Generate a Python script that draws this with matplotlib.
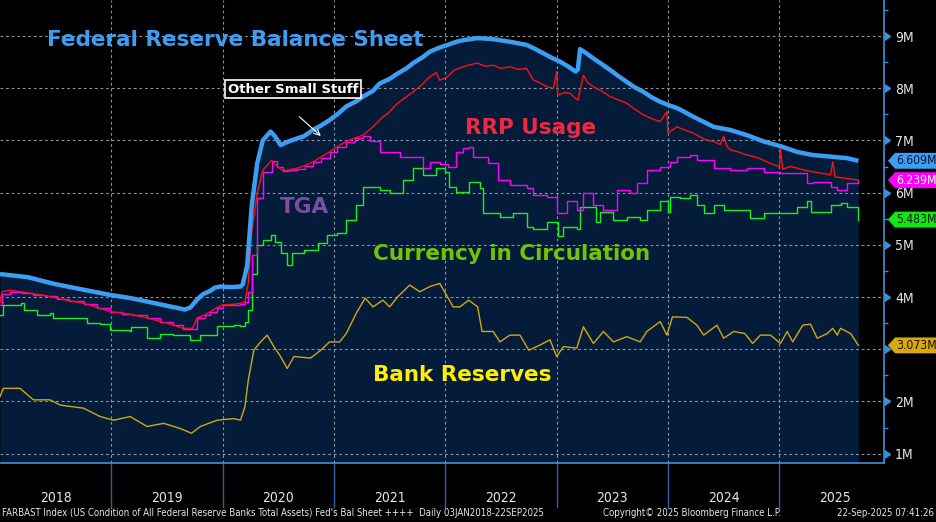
import matplotlib
matplotlib.use("Agg")
import matplotlib.pyplot as plt
from matplotlib import font_manager
from matplotlib.font_manager import FontProperties
from matplotlib.path import Path
import matplotlib.transforms as mtransforms

# look for a narrow face (Bloomberg uses a condensed font)
narrow = None
for f in font_manager.fontManager.ttflist:
    name = f.name.lower()
    if ('narrow' in name or 'condensed' in name or f.stretch in ('condensed', 'semi-condensed')) \
            and f.weight in (400, 'normal', 'regular') and f.style == 'normal':
        narrow = f
        break
if narrow is not None:
    NARROW = dict(fontproperties=FontProperties(fname=narrow.fname))
    SCALE = 1.0
else:
    NARROW = dict(family='DejaVu Sans')
    SCALE = 0.9

# colours
BG = '#000000'
NAVY = '#041c3a'
BLUE = '#3d9df2'
RED = '#ff1010'
MAGENTA = '#ff00ff'
GREEN = '#19f019'
GOLD = '#d2a80a'
GRID = '#8a929a'
SPINE = '#3b8fe0'

# ---- data (millions of USD, decimal years) ----
blue_t = [2018.00, 2018.25, 2018.49, 2018.75, 2018.99, 2019.17, 2019.35, 2019.55, 2019.66, 2019.71,
          2019.77, 2019.82, 2019.89, 2019.93, 2019.98, 2020.07, 2020.16, 2020.18, 2020.22, 2020.26,
          2020.31, 2020.36, 2020.43, 2020.47, 2020.52, 2020.58, 2020.67, 2020.73, 2020.81, 2020.88,
          2020.96, 2021.03, 2021.11, 2021.20, 2021.26, 2021.35, 2021.41, 2021.50, 2021.57, 2021.65,
          2021.71, 2021.80, 2021.86, 2021.95, 2022.02, 2022.10, 2022.16, 2022.29, 2022.43, 2022.58,
          2022.73, 2022.80, 2022.88, 2022.95, 2023.03, 2023.10, 2023.17, 2023.19, 2023.21, 2023.26,
          2023.33, 2023.40, 2023.48, 2023.55, 2023.63, 2023.70, 2023.78, 2023.85, 2023.93, 2024.00,
          2024.08, 2024.11, 2024.23, 2024.26, 2024.41, 2024.56, 2024.71, 2024.86, 2025.01, 2025.16,
          2025.30, 2025.46, 2025.61, 2025.71]
blue_v = [4.44, 4.38, 4.25, 4.14, 4.04, 3.98, 3.90, 3.81, 3.76, 3.80,
          3.95, 4.05, 4.12, 4.18, 4.20, 4.19, 4.20, 4.24, 4.60, 5.73,
          6.56, 7.00, 7.17, 7.08, 6.91, 6.97, 7.04, 7.08, 7.20, 7.28,
          7.39, 7.50, 7.65, 7.75, 7.84, 7.95, 8.09, 8.18, 8.28, 8.38,
          8.48, 8.60, 8.70, 8.78, 8.83, 8.89, 8.92, 8.96, 8.94, 8.89,
          8.83, 8.76, 8.67, 8.59, 8.51, 8.42, 8.32, 8.36, 8.75, 8.68,
          8.57, 8.47, 8.35, 8.24, 8.12, 8.02, 7.93, 7.83, 7.74, 7.68,
          7.62, 7.59, 7.45, 7.42, 7.26, 7.20, 7.10, 6.98, 6.89, 6.78,
          6.72, 6.69, 6.66, 6.609]

red_t = [2018.00, 2018.02, 2018.09, 2018.20, 2018.30, 2018.40, 2018.51, 2018.62, 2018.75, 2018.87,
         2018.99, 2019.10, 2019.19, 2019.32, 2019.44, 2019.55, 2019.64, 2019.73, 2019.77, 2019.84,
         2019.89, 2019.95, 2020.00, 2020.10, 2020.16, 2020.20, 2020.23, 2020.26, 2020.31, 2020.36,
         2020.44, 2020.49, 2020.54, 2020.60, 2020.67, 2020.74, 2020.81, 2020.88, 2020.96, 2021.03,
         2021.11, 2021.19, 2021.26, 2021.35, 2021.44, 2021.50, 2021.57, 2021.64, 2021.71, 2021.78,
         2021.86, 2021.92, 2021.95, 2022.02, 2022.08, 2022.16, 2022.22, 2022.29, 2022.36, 2022.43,
         2022.50, 2022.58, 2022.66, 2022.73, 2022.79, 2022.85, 2022.91, 2022.97, 2023.00, 2023.01,
         2023.08, 2023.12, 2023.19, 2023.24, 2023.28, 2023.33, 2023.40, 2023.48, 2023.55, 2023.63,
         2023.70, 2023.78, 2023.85, 2023.93, 2023.99, 2024.00, 2024.08, 2024.15, 2024.23, 2024.26,
         2024.33, 2024.41, 2024.47, 2024.50, 2024.53, 2024.56, 2024.63, 2024.71, 2024.79, 2024.86,
         2024.93, 2025.00, 2025.01, 2025.03, 2025.10, 2025.16, 2025.23, 2025.30, 2025.38, 2025.46,
         2025.48, 2025.50, 2025.61, 2025.71]
red_v = [3.89, 4.10, 4.13, 4.10, 4.06, 4.03, 3.98, 3.93, 3.88, 3.80,
         3.72, 3.69, 3.66, 3.60, 3.53, 3.47, 3.40, 3.40, 3.60, 3.66,
         3.72, 3.80, 3.85, 3.86, 3.88, 3.91, 4.27, 5.23, 5.99, 6.43,
         6.62, 6.50, 6.42, 6.44, 6.47, 6.52, 6.59, 6.68, 6.78, 6.88,
         6.98, 7.05, 7.10, 7.26, 7.45, 7.55, 7.71, 7.82, 7.93, 8.05,
         8.22, 8.30, 8.15, 8.22, 8.35, 8.41, 8.45, 8.48, 8.42, 8.44,
         8.38, 8.41, 8.36, 8.38, 8.16, 8.10, 8.03, 8.00, 8.32, 7.87,
         7.92, 7.90, 7.77, 8.25, 8.10, 8.03, 7.95, 7.84, 7.78, 7.71,
         7.60, 7.49, 7.42, 7.36, 7.55, 7.14, 7.26, 7.20, 7.14, 7.10,
         7.02, 6.98, 6.92, 7.08, 6.88, 6.82, 6.78, 6.72, 6.68, 6.62,
         6.55, 6.50, 6.85, 6.45, 6.50, 6.47, 6.43, 6.40, 6.37, 6.34,
         6.59, 6.30, 6.27, 6.239]

magenta_t = [2018.00, 2018.02, 2018.09, 2018.20, 2018.30, 2018.40, 2018.51, 2018.62, 2018.75, 2018.87,
             2018.99, 2019.10, 2019.19, 2019.32, 2019.44, 2019.55, 2019.64, 2019.73, 2019.77, 2019.84,
             2019.89, 2019.95, 2020.00, 2020.10, 2020.16, 2020.20, 2020.23, 2020.26, 2020.31, 2020.36,
             2020.44, 2020.49, 2020.54, 2020.60, 2020.67, 2020.74, 2020.81, 2020.88, 2020.96, 2021.03,
             2021.11, 2021.19, 2021.26, 2021.32, 2021.41, 2021.53, 2021.59, 2021.71, 2021.80, 2021.86,
             2021.95, 2022.02, 2022.10, 2022.16, 2022.21, 2022.25, 2022.38, 2022.47, 2022.58, 2022.73,
             2022.79, 2022.91, 2023.00, 2023.09, 2023.18, 2023.24, 2023.33, 2023.42, 2023.54, 2023.66,
             2023.72, 2023.81, 2023.93, 2024.02, 2024.08, 2024.20, 2024.26, 2024.41, 2024.56, 2024.71,
             2024.86, 2025.01, 2025.16, 2025.25, 2025.30, 2025.46, 2025.52, 2025.61, 2025.71]
magenta_v = [3.84, 4.06, 4.09, 4.07, 4.04, 4.02, 3.97, 3.92, 3.87, 3.79,
             3.71, 3.68, 3.65, 3.59, 3.52, 3.46, 3.39, 3.39, 3.59, 3.65,
             3.71, 3.79, 3.84, 3.85, 3.87, 3.90, 4.10, 4.80, 5.90, 6.40,
             6.61, 6.49, 6.41, 6.43, 6.46, 6.51, 6.58, 6.67, 6.77, 6.87,
             6.97, 7.04, 7.09, 6.98, 6.78, 6.78, 6.69, 6.69, 6.47, 6.59,
             6.55, 6.50, 6.78, 6.85, 6.88, 6.69, 6.56, 6.24, 6.15, 6.08,
             5.95, 5.92, 5.60, 5.83, 5.67, 5.99, 5.76, 5.67, 6.05, 5.99,
             6.18, 6.43, 6.50, 6.59, 6.69, 6.72, 6.62, 6.47, 6.43, 6.47,
             6.40, 6.37, 6.37, 6.18, 6.21, 6.11, 6.05, 6.18, 6.239]

green_t = [2018.00, 2018.03, 2018.19, 2018.22, 2018.30, 2018.33, 2018.45, 2018.48, 2018.72, 2018.78,
           2018.90, 2018.99, 2019.17, 2019.18, 2019.32, 2019.44, 2019.55, 2019.71, 2019.80, 2019.95,
           2020.10, 2020.16, 2020.20, 2020.23, 2020.26, 2020.31, 2020.36, 2020.43, 2020.47, 2020.52,
           2020.58, 2020.62, 2020.73, 2020.86, 2020.94, 2021.03, 2021.11, 2021.20, 2021.26, 2021.41,
           2021.50, 2021.62, 2021.71, 2021.80, 2021.92, 2022.00, 2022.03, 2022.10, 2022.21, 2022.31,
           2022.34, 2022.49, 2022.61, 2022.73, 2022.79, 2022.91, 2023.01, 2023.06, 2023.18, 2023.21,
           2023.30, 2023.35, 2023.39, 2023.51, 2023.63, 2023.75, 2023.81, 2023.93, 2024.00, 2024.02,
           2024.11, 2024.20, 2024.26, 2024.32, 2024.41, 2024.50, 2024.62, 2024.74, 2024.86, 2025.10,
           2025.16, 2025.25, 2025.28, 2025.46, 2025.55, 2025.61, 2025.71]
green_v = [3.66, 3.85, 3.88, 3.76, 3.76, 3.66, 3.69, 3.59, 3.59, 3.50,
           3.48, 3.37, 3.34, 3.43, 3.21, 3.30, 3.27, 3.18, 3.27, 3.44,
           3.46, 3.44, 3.53, 3.75, 4.45, 5.00, 5.09, 5.19, 5.06, 4.84,
           4.61, 4.84, 4.90, 5.03, 5.19, 5.22, 5.48, 5.76, 6.11, 6.05,
           5.99, 6.24, 6.47, 6.34, 6.47, 6.40, 6.11, 6.02, 6.21, 6.08,
           5.60, 5.54, 5.60, 5.35, 5.31, 5.44, 5.16, 5.35, 5.31, 5.73,
           5.73, 5.44, 5.63, 5.48, 5.54, 5.48, 5.67, 5.83, 5.63, 5.92,
           5.89, 5.95, 5.76, 5.60, 5.76, 5.67, 5.67, 5.51, 5.60, 5.60,
           5.73, 5.83, 5.63, 5.76, 5.80, 5.73, 5.483]

gold_t = [2018.00, 2018.03, 2018.18, 2018.30, 2018.45, 2018.54, 2018.75, 2018.90, 2019.02, 2019.17,
          2019.32, 2019.47, 2019.62, 2019.72, 2019.80, 2019.95, 2020.10, 2020.16, 2020.20, 2020.23,
          2020.28, 2020.34, 2020.40, 2020.46, 2020.52, 2020.58, 2020.64, 2020.79, 2020.88, 2020.96,
          2021.05, 2021.11, 2021.20, 2021.28, 2021.35, 2021.44, 2021.50, 2021.57, 2021.68, 2021.77,
          2021.86, 2021.95, 2022.02, 2022.07, 2022.13, 2022.21, 2022.29, 2022.33, 2022.43, 2022.49,
          2022.58, 2022.67, 2022.75, 2022.85, 2022.94, 2023.00, 2023.06, 2023.18, 2023.24, 2023.33,
          2023.42, 2023.51, 2023.63, 2023.75, 2023.81, 2023.93, 2023.99, 2024.04, 2024.17, 2024.26,
          2024.32, 2024.44, 2024.50, 2024.59, 2024.69, 2024.76, 2024.83, 2024.92, 2025.01, 2025.07,
          2025.12, 2025.21, 2025.28, 2025.34, 2025.43, 2025.48, 2025.52, 2025.55, 2025.64, 2025.71]
gold_v = [2.09, 2.25, 2.25, 2.03, 2.03, 1.93, 1.87, 1.71, 1.64, 1.71,
          1.52, 1.58, 1.48, 1.39, 1.52, 1.64, 1.67, 1.64, 1.90, 2.41,
          2.98, 3.14, 3.27, 3.05, 2.86, 2.63, 2.86, 2.83, 2.98, 3.14,
          3.14, 3.30, 3.69, 3.98, 3.81, 3.94, 3.81, 4.00, 4.23, 4.10,
          4.20, 4.26, 4.00, 3.81, 3.81, 3.94, 3.81, 3.34, 3.34, 3.14,
          3.27, 3.27, 2.98, 3.08, 3.18, 2.86, 3.05, 3.02, 3.43, 3.11,
          3.34, 3.14, 3.24, 3.14, 3.34, 3.53, 3.27, 3.62, 3.61, 3.46,
          3.27, 3.46, 3.21, 3.34, 3.30, 3.11, 3.27, 3.27, 3.11, 3.34,
          3.14, 3.46, 3.48, 3.21, 3.30, 3.40, 3.27, 3.40, 3.30, 3.073]

years = [2018, 2019, 2020, 2021, 2022, 2023, 2024, 2025]
y_ticks = [1, 2, 3, 4, 5, 6, 7, 8, 9]
y_min, y_max = 0.82, 9.69
x_min, x_max = 2018.0, 2025.94

fig = plt.figure(figsize=(9.36, 5.22), dpi=100, facecolor=BG)
ax = fig.add_axes([0, 59 / 522, 884 / 936, 463 / 522], facecolor=BG)
ax.set_xlim(x_min, x_max)
ax.set_ylim(y_min, y_max)

# navy area under the balance sheet
ax.fill_between(blue_t, blue_v, y_min, color=NAVY, lw=0, zorder=1)

# grid
ax.set_yticks(y_ticks)
ax.set_yticks([v + 0.5 for v in y_ticks], minor=True)
ax.set_xticks(years[1:])
ax.grid(True, which='major', color=GRID, lw=0.8, ls=(0, (2.5, 2.5)), zorder=1.5)

ax.plot(gold_t, gold_v, color=GOLD, lw=1.0, zorder=3)
ax.plot(green_t, green_v, color=GREEN, lw=1.0, drawstyle='steps-post', zorder=3)
ax.plot(magenta_t, magenta_v, color=MAGENTA, lw=1.0, drawstyle='steps-post', zorder=3)
ax.plot(red_t, red_v, color=RED, lw=1.0, zorder=4)
ax.plot(blue_t, blue_v, color=BLUE, lw=3.2, zorder=5, solid_capstyle='butt')

# axes look
for s in ['left', 'top']:
    ax.spines[s].set_visible(False)
for s in ['right', 'bottom']:
    ax.spines[s].set_color(SPINE)
    ax.spines[s].set_linewidth(1.2)
ax.yaxis.tick_right()
# the 3M label sits under the last bank reserves tag, as in the original
ax.set_yticklabels(['' if v == 3 else f'{v}M' for v in y_ticks], color='#e6e6e6',
                   fontsize=10 * SCALE, **NARROW)
ax.tick_params(axis='y', which='major', length=0, pad=8)
ax.tick_params(axis='y', which='minor', length=3, color=SPINE, width=1, direction='out')
ax.tick_params(axis='x', which='both', length=0, labelbottom=False)

# triangle tick marks on the right axis
tri = mtransforms.blended_transform_factory(ax.transAxes, ax.transData)
ax.plot([1.0] * len(y_ticks), y_ticks, ls='none', marker=9, ms=6, color=SPINE,
        transform=tri, clip_on=False, zorder=6)

# year labels and separators below the axis
sep = mtransforms.blended_transform_factory(ax.transData, ax.transAxes)
for y in years:
    ax.text(y + 0.5, -0.075, str(y), transform=sep, ha='center', va='center',
            color='#e6e6e6', fontsize=10 * SCALE, **NARROW)
    if y > years[0]:
        ax.plot([y, y], [0, -0.095], transform=sep, color='#2a64a8', lw=1, clip_on=False)


# value tags on the right
def tag_box(x0, y0, width, height, mutation_size):
    pad = 0.12 * mutation_size
    x0, y0 = x0 - pad, y0 - pad
    w, h = width + 2 * pad, height + 2 * pad
    tip = h * 0.45
    verts = [(x0 - tip, y0 + h / 2), (x0, y0), (x0 + w, y0), (x0 + w, y0 + h),
             (x0, y0 + h), (x0 - tip, y0 + h / 2)]
    return Path(verts, closed=True)


tags = [(blue_v[-1], BLUE, '#0a1530'), (magenta_v[-1], MAGENTA, 'white'),
        (green_v[-1], '#10e810', '#0a1a0a'), (gold_v[-1], '#d8a810', '#1a1400')]
for val, fc, tc in tags:
    ax.annotate(f'{val:.3f}M', xy=(1.0, val), xycoords=tri, xytext=(9, 0),
                textcoords='offset points', ha='left', va='center', color=tc,
                fontsize=8.7 * SCALE, annotation_clip=False,
                bbox=dict(boxstyle=tag_box, fc=fc, ec='none'), zorder=7, **NARROW)

# labels
bold = dict(fontweight='bold', family='DejaVu Sans', va='center', ha='left')
ax.text(2018.42, 8.92, 'Federal Reserve Balance Sheet', color=BLUE, fontsize=15.5, **bold)
ax.text(2022.18, 7.24, 'RRP Usage', color='#f02840', fontsize=15.5, **bold)
ax.text(2020.51, 5.72, 'TGA', color='#7a4ea2', fontsize=15.5, **bold)
ax.text(2021.35, 4.82, 'Currency in Circulation', color='#70c400', fontsize=15.5, **bold)
ax.text(2021.35, 2.51, 'Bank Reserves', color='#ffee00', fontsize=15.5, **bold)
ax.text(2020.63, 7.98, 'Other Small Stuff', color='white', fontsize=9.5, fontweight='bold',
        family='DejaVu Sans', ha='center', va='center',
        bbox=dict(boxstyle='square,pad=0.2', fc='black', ec='white', lw=1.2), zorder=8)
ax.annotate('', xy=(2020.90, 7.05), xytext=(2020.67, 7.49),
            arrowprops=dict(arrowstyle='->', color='white', lw=0.8), zorder=8)

# footer
fs = 6.9 * SCALE
fig.text(2 / 936, 9 / 522, "FARBAST Index (US Condition of All Federal Reserve Banks Total Assets) "
         "Fed's Bal Sheet ++++  Daily 03JAN2018-22SEP2025", color='#e6e6e6',
         fontsize=fs, ha='left', va='center', **NARROW)
fig.text(603 / 936, 9 / 522, 'Copyright\u00a9 2025 Bloomberg Finance L.P.', color='#e6e6e6',
         fontsize=fs, ha='left', va='center', **NARROW)
fig.text(934 / 936, 9 / 522, '22-Sep-2025 07:41:26', color='#e6e6e6',
         fontsize=fs, ha='right', va='center', **NARROW)

fig.savefig('out.png', dpi=100, facecolor=BG)
